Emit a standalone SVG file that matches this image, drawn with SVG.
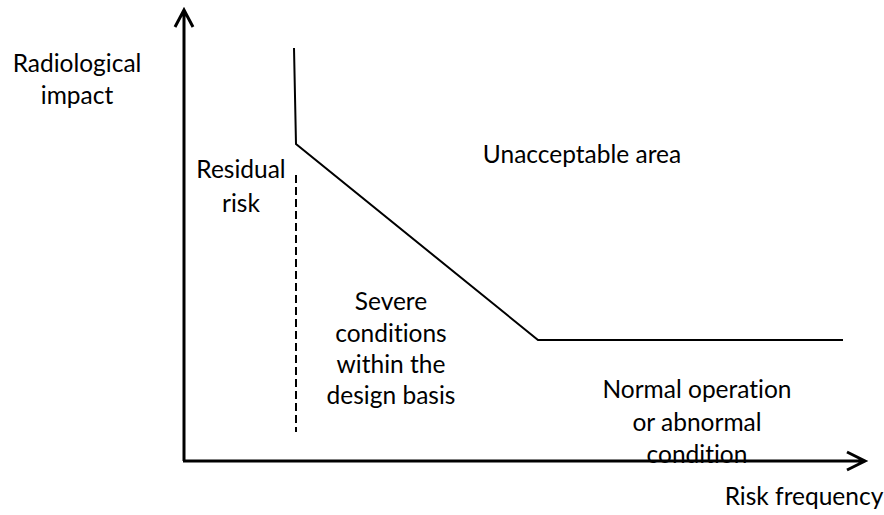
<svg xmlns="http://www.w3.org/2000/svg" width="884" height="515" viewBox="0 0 884 515">
<style>
.t{font-family:Lato,"Open Sans",sans-serif;font-size:24.5px;fill:#000;text-anchor:middle;font-variant-ligatures:none;font-feature-settings:"liga" 0}
.ax{stroke:#000;stroke-width:3;fill:none}
.ln{stroke:#000;stroke-width:2;fill:none}
</style>
<rect width="884" height="515" fill="#fff"/>
<g id="connectors">
<path class="ax" d="M184,461 V11 M175,27 L184,10 L193,27"/>
<path class="ax" d="M183,461 H864 M847,452 L865,461 L847,470"/>
<path class="ln" d="M294,48 L296,144 L538,340 H843"/>
<path class="ln" d="M296,175 V432" stroke-dasharray="8,4"/>
</g>
<g id="label-y"><text class="t" x="77" y="72">Radiological</text><text class="t" x="77" y="104">impact</text></g>
<g id="residual"><text class="t" x="241" y="178">Residual</text><text class="t" x="241" y="212">risk</text></g>
<g id="unacceptable"><text class="t" x="582" y="163">Unacceptable area</text></g>
<g id="severe"><text class="t" x="391" y="310">Severe</text><text class="t" x="391" y="342">conditions</text><text class="t" x="391" y="373">within the</text><text class="t" x="391" y="404">design basis</text></g>
<g id="normal"><text class="t" x="697" y="398">Normal operation</text><text class="t" x="697" y="431">or abnormal</text><text class="t" x="697" y="463">condition</text></g>
<g id="label-x"><text class="t" x="804" y="505">Risk frequency</text></g>
</svg>
